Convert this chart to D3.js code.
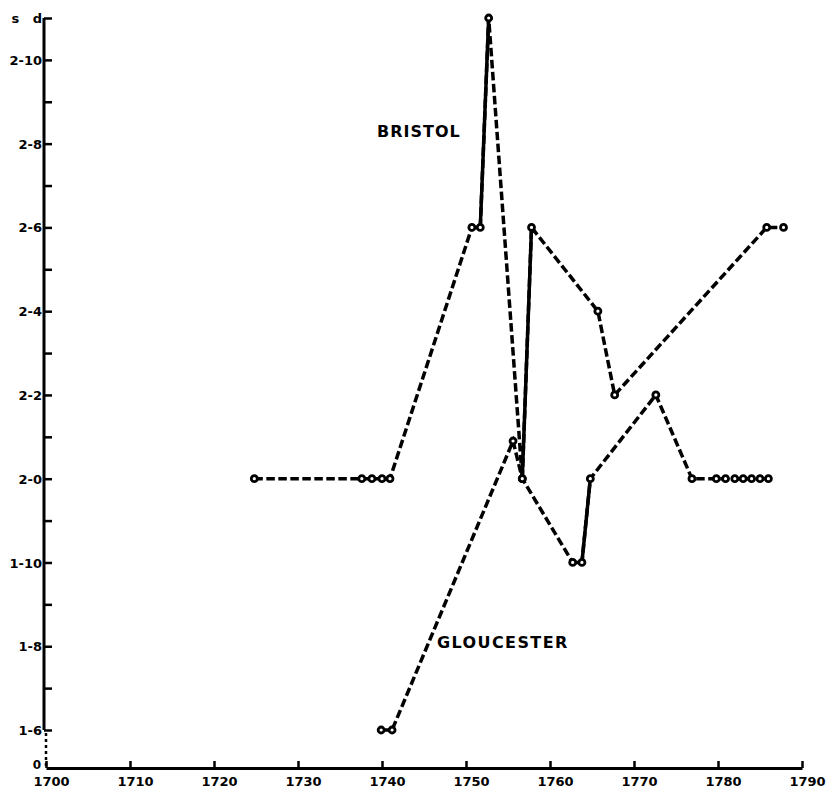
<!DOCTYPE html>
<html>
<head>
<meta charset="utf-8">
<script src="https://cdn.jsdelivr.net/npm/d3@7"></script>
<style>
  html, body { margin: 0; padding: 0; background: #fff; }
  svg { display: block; }
  text { font-family: "DejaVu Sans", sans-serif; font-weight: bold; fill: #000; }
</style>
</head>
<body>
<svg id="chart" width="827" height="790"></svg>
<script>
// ---- data (prices in pence; 24 = 2s 0d) ----
const bristolYears  = [1724.8, 1737.6, 1738.8, 1740.0, 1740.95, 1750.7, 1751.7, 1752.7, 1756.7, 1757.8, 1765.7, 1767.7, 1785.8, 1787.8];
const bristolPence  = [24,     24,     24,     24,     24,      30,     30,     35,     24,     30,     28,     26,     30,     30];
const gloucesterYears = [1739.9, 1741.2, 1755.6, 1756.7, 1762.7, 1763.8, 1764.8, 1772.6, 1776.9, 1779.8, 1780.9, 1782.0, 1783.0, 1784.0, 1785.0, 1786.0];
const gloucesterPence = [18,     18,     24.9,   24,     22,     22,     24,     26,     24,     24,     24,     24,     24,     24,     24,     24];
const xTickYears = [1700, 1710, 1720, 1730, 1740, 1750, 1760, 1770, 1780, 1790];
const yTickPence = [0, 18, 19, 20, 21, 22, 23, 24, 25, 26, 27, 28, 29, 30, 31, 32, 33, 34, 35];
const yTickLabels = {0: "0", 18: "1-6", 20: "1-8", 22: "1-10", 24: "2-0", 26: "2-2", 28: "2-4", 30: "2-6", 32: "2-8", 34: "2-10", 35: "s   d"};
const seriesNames = ["BRISTOL", "GLOUCESTER"];

// ---- scales ----
const svg = d3.select("#chart");
const x = d3.scaleLinear().domain([1700, 1790]).range([46, 802]);
// broken axis: 0 at the bottom, then 1s 6d .. 2s 11d
const y = d3.scaleLinear().domain([0, 18, 35]).range([768, 730, 18]);

const axisX = x(1700) - 2;

// ---- y axis ----
const gy = svg.append("g").attr("transform", `translate(${axisX},0)`);
gy.append("line").attr("x1", 0).attr("x2", 0).attr("y1", y(35)).attr("y2", y(18))
  .attr("stroke", "#000").attr("stroke-width", 3);
gy.append("line").attr("x1", 2).attr("x2", 2).attr("y1", y(18) + 3).attr("y2", y(0) - 2)
  .attr("stroke", "#000").attr("stroke-width", 2.5).attr("stroke-dasharray", "3,3");
const yAxis = d3.axisRight(y).tickValues(yTickPence.filter(p => p > 0)).tickSize(8)
  .tickFormat(p => yTickLabels[p] || "");
const gya = gy.append("g").call(yAxis);
gya.select(".domain").remove();
gya.selectAll(".tick line").attr("stroke", "#000").attr("stroke-width", 2.5);
gya.selectAll(".tick text").attr("x", -2).attr("text-anchor", "end")
  .attr("dy", "0.35em").style("font-size", "13px").style("white-space", "pre");
// zero label
gy.append("text").attr("x", -3).attr("y", y(0) - 3).attr("dy", "0.35em")
  .attr("text-anchor", "end").style("font-size", "12px").text(yTickLabels[0]);

// ---- x axis ----
const xAxis = d3.axisBottom(x).tickValues(xTickYears).tickSizeInner(-7).tickSizeOuter(0)
  .tickFormat(d3.format("d"));
const gx = svg.append("g").attr("transform", `translate(0,${y(0)})`).call(xAxis);
gx.select(".domain").attr("stroke", "#000").attr("stroke-width", 3);
gx.selectAll(".tick line").attr("stroke", "#000").attr("stroke-width", 2.5);
gx.selectAll(".tick text").attr("y", 18).attr("dy", 0).attr("dx", 5)
  .style("font-size", "13px");

// ---- series ----
function drawSeries(years, pence, solidStarts) {
  const pts = years.map((yr, i) => [x(yr), y(pence[i])]);
  const line = d3.line();
  svg.append("path").attr("d", line(pts)).attr("fill", "none")
    .attr("stroke", "#000").attr("stroke-width", 3.5).attr("stroke-dasharray", "8.5,3.5");
  solidStarts.forEach(i => {
    svg.append("path").attr("d", line([pts[i], pts[i + 1]])).attr("fill", "none")
      .attr("stroke", "#000").attr("stroke-width", 3.5);
  });
  svg.append("g").selectAll("circle").data(pts).join("circle")
    .attr("cx", d => d[0]).attr("cy", d => d[1]).attr("r", 3)
    .attr("fill", "#fff").attr("stroke", "#000").attr("stroke-width", 2.8);
}
drawSeries(bristolYears, bristolPence, [5, 6, 8]);
drawSeries(gloucesterYears, gloucesterPence, [4, 5]);

// ---- series labels ----
svg.append("text").attr("x", 377).attr("y", 137).style("font-size", "16px")
  .style("letter-spacing", "1px").text(seriesNames[0]);
svg.append("text").attr("x", 437).attr("y", 648).style("font-size", "16px")
  .style("letter-spacing", "1.4px").text(seriesNames[1]);
</script>
</body>
</html>
